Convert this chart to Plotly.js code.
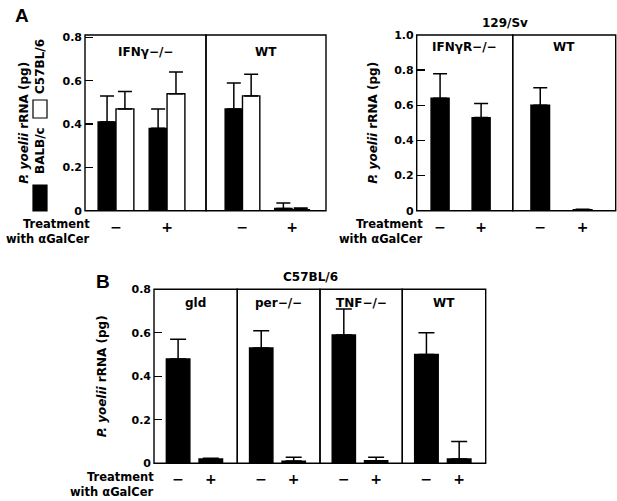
<!DOCTYPE html>
<html>
<head>
<meta charset="utf-8">
<script src="https://cdn.plot.ly/plotly-3.0.1.min.js"></script>
<style>html,body{margin:0;padding:0;background:#fff;}#chart{width:617px;height:501px;}</style>
</head>
<body>
<div id="chart"></div>
<script>
// ---------------- DATA ----------------
const treatment = ['−', '+'];

// Panel A, left: IFNγ−/− and WT, BALB/c (black) vs C57BL/6 (white)
const aLeftGroups = ['IFNγ−/−', 'WT'];
const balbMean = [0.41, 0.38, 0.47, 0.01];
const balbErr  = [0.12, 0.09, 0.12, 0.025];
const b6Mean   = [0.47, 0.54, 0.53, 0.005];
const b6Err    = [0.08, 0.10, 0.10, 0.007];

// Panel A, right: 129/Sv, IFNγR−/− and WT
const aRightGroups = ['IFNγR−/−', 'WT'];
const sv129Mean = [0.64, 0.53, 0.60, 0.005];
const sv129Err  = [0.14, 0.08, 0.10, 0.003];

// Panel B: C57BL/6, gld, per−/−, TNF−/−, WT
const bGroups = ['gld', 'per−/−', 'TNF−/−', 'WT'];
const bMean = [0.48, 0.02, 0.53, 0.01, 0.59, 0.012, 0.50, 0.02];
const bErr  = [0.09, 0.003, 0.08, 0.018, 0.12, 0.016, 0.10, 0.08];

// Tick labels
const yTickVals08 = [0, 0.2, 0.4, 0.6, 0.8];
const yTickText08 = ['0', '0.2', '0.4', '0.6', '0.8'];
const yTickVals10 = [0, 0.2, 0.4, 0.6, 0.8, 1.0];
const yTickText10 = ['0', '0.2', '0.4', '0.6', '0.8', '1.0'];

const yTitle = '<i>P. yoelii</i> rRNA (pg)';
const treatLine1 = 'Treatment';
const treatLine2 = 'with αGalCer';

// ---------------- LAYOUT HELPERS ----------------
const W = 617, H = 501;
const px = v => v / W;
const py = v => 1 - v / H;
const FONT = 'DejaVu Sans, Arial, sans-serif';

function errUp(arr) {
  return {type: 'data', symmetric: false, array: arr, arrayminus: arr.map(() => 0),
          color: '#000', thickness: 1.5, width: 7};
}

const traces = [];
function bar(x, y, err, xa, ya, color, width, offset, capw) {
  const t = {type: 'bar', x: x, y: y, xaxis: xa, yaxis: ya, width: width,
    marker: {color: color, line: {color: '#000', width: 1.4}},
    error_y: Object.assign(errUp(err), {width: capw || 7}),
    hoverinfo: 'skip', showlegend: false};
  if (offset !== undefined) t.offset = offset;
  traces.push(t);
}

// Panel A left
bar(treatment, balbMean.slice(0, 2), balbErr.slice(0, 2), 'x', 'y', '#000', 0.35, -0.35);
bar(treatment, b6Mean.slice(0, 2),   b6Err.slice(0, 2),   'x', 'y', '#fff', 0.35, 0);
bar(treatment, balbMean.slice(2, 4), balbErr.slice(2, 4), 'x2', 'y', '#000', 0.35, -0.35);
bar(treatment, b6Mean.slice(2, 4),   b6Err.slice(2, 4),   'x2', 'y', '#fff', 0.35, 0);
// Panel A right
bar(treatment, sv129Mean.slice(0, 2), sv129Err.slice(0, 2), 'x3', 'y2', '#000', 0.44);
bar(treatment, sv129Mean.slice(2, 4), sv129Err.slice(2, 4), 'x4', 'y2', '#000', 0.44);
// Panel B
for (let g = 0; g < bGroups.length; g++) {
  bar(treatment, bMean.slice(2 * g, 2 * g + 2), bErr.slice(2 * g, 2 * g + 2),
      'x' + (5 + g), 'y3', '#000', 0.72, undefined, 8);
}

function xax(d0, d1, range, anchor) {
  return {domain: [px(d0), px(d1)], range: range, anchor: anchor, type: 'category',
    categoryorder: 'array', categoryarray: treatment,
    showline: false, showgrid: false, zeroline: false, ticks: '',
    tickfont: {family: FONT, size: 14, color: '#000', weight: 'bold'},
    ticklabelstandoff: 6, fixedrange: true};
}
function yax(y0, y1, range, anchor, vals, text, standoff) {
  return {domain: [py(y0), py(y1)], range: range, anchor: anchor,
    showline: false, showgrid: false, zeroline: false,
    tickvals: vals, ticktext: text, ticks: 'inside', ticklen: 8, tickwidth: 1.3, tickcolor: '#000',
    tickfont: {family: FONT, size: 11, color: '#000', weight: 'bold'},
    ticklabelstandoff: 2,
    title: {text: yTitle, standoff: standoff, font: {family: FONT, size: 12, color: '#000', weight: 'bold'}},
    fixedrange: true};
}

const layout = {
  width: W, height: H,
  margin: {l: 0, r: 0, t: 0, b: 0, autoexpand: false},
  paper_bgcolor: '#fff', plot_bgcolor: 'rgba(0,0,0,0)',
  font: {family: FONT, color: '#000'},
  barmode: 'overlay',
  showlegend: false,
  xaxis:  xax(85, 206, [-0.607, 1.763], 'y'),
  xaxis2: xax(206, 326, [-0.736, 1.685], 'y'),
  xaxis3: xax(416.7, 512.7, [-0.57, 1.77], 'y2'),
  xaxis4: xax(512.7, 615.7, [-0.65, 1.78], 'y2'),
  xaxis5: xax(154, 237.3, [-0.737, 1.81], 'y3'),
  xaxis6: xax(237.3, 320, [-0.737, 1.81], 'y3'),
  xaxis7: xax(320, 402.3, [-0.737, 1.81], 'y3'),
  xaxis8: xax(402.3, 485.7, [-0.737, 1.81], 'y3'),
  yaxis:  yax(210.7, 35, [0, 0.811], 'x', yTickVals08, yTickText08, 31),
  yaxis2: yax(210.7, 35, [0, 1.0], 'x3', yTickVals10, yTickText10, 13),
  yaxis3: yax(463.3, 289.3, [0, 0.8], 'x5', yTickVals08, yTickText08, 22),
  shapes: [], annotations: []
};

// frames around each sub-panel
const frames = [['x', 'y'], ['x2', 'y'], ['x3', 'y2'], ['x4', 'y2'],
                ['x5', 'y3'], ['x6', 'y3'], ['x7', 'y3'], ['x8', 'y3']];
frames.forEach(([xa, ya]) => {
  layout.shapes.push({type: 'rect', xref: xa + ' domain', yref: ya + ' domain',
    x0: 0, x1: 1, y0: 0, y1: 1, line: {color: '#000', width: 1.4}, layer: 'above'});
});

function ann(text, x, y, opts) {
  layout.annotations.push(Object.assign({text: text, x: x, y: y, xref: 'paper', yref: 'paper',
    xanchor: 'center', yanchor: 'middle',
    showarrow: false, font: {family: FONT, size: 12, color: '#000', weight: 'bold'}}, opts || {}));
}
// genotype labels inside boxes
[['x', 'y', aLeftGroups[0], 0.903], ['x2', 'y', aLeftGroups[1], 0.903],
 ['x3', 'y2', aRightGroups[0], 0.933], ['x4', 'y2', aRightGroups[1], 0.933]].forEach(([xa, ya, t, yy]) => {
  ann(t, 0.5, yy, {xref: xa + ' domain', yref: ya + ' domain'});
});
bGroups.forEach((t, i) => ann(t, 0.5, 0.921, {xref: 'x' + (5 + i) + ' domain', yref: 'y3 domain'}));

// panel letters and strain headers
ann('A', px(22), py(15), {font: {family: 'Liberation Sans, Arial, sans-serif', size: 19, color: '#000', weight: 'bold'}});
ann('B', px(103), py(281), {font: {family: 'Liberation Sans, Arial, sans-serif', size: 19, color: '#000', weight: 'bold'}});
ann('129/Sv', px(505), py(23));
ann('C57BL/6', px(310), py(277));

// treatment row labels
const tFont = {family: FONT, size: 11.5, color: '#000', weight: 'bold'};
[[92, 224, 238.5], [425, 224.5, 239], [156, 477, 491.5]].forEach(([xr, y1, y2]) => {
  ann(treatLine1, px(xr), py(y1), {xanchor: 'right', font: tFont});
  ann(treatLine2, px(xr), py(y2), {xanchor: 'right', font: tFont});
});

// legend for panel A left (rotated)
ann('BALB/c', px(40), py(151), {textangle: -90});
ann('C57BL/6', px(40), py(67), {textangle: -90});
layout.shapes.push({type: 'rect', xref: 'paper', yref: 'paper', x0: px(33), x1: px(47), y0: py(211), y1: py(185),
  fillcolor: '#000', line: {color: '#000', width: 1.2}});
layout.shapes.push({type: 'rect', xref: 'paper', yref: 'paper', x0: px(33), x1: px(47), y0: py(118), y1: py(100),
  fillcolor: '#fff', line: {color: '#000', width: 1.2}});

Plotly.newPlot('chart', traces, layout, {staticPlot: true, displayModeBar: false});
</script>
</body>
</html>
